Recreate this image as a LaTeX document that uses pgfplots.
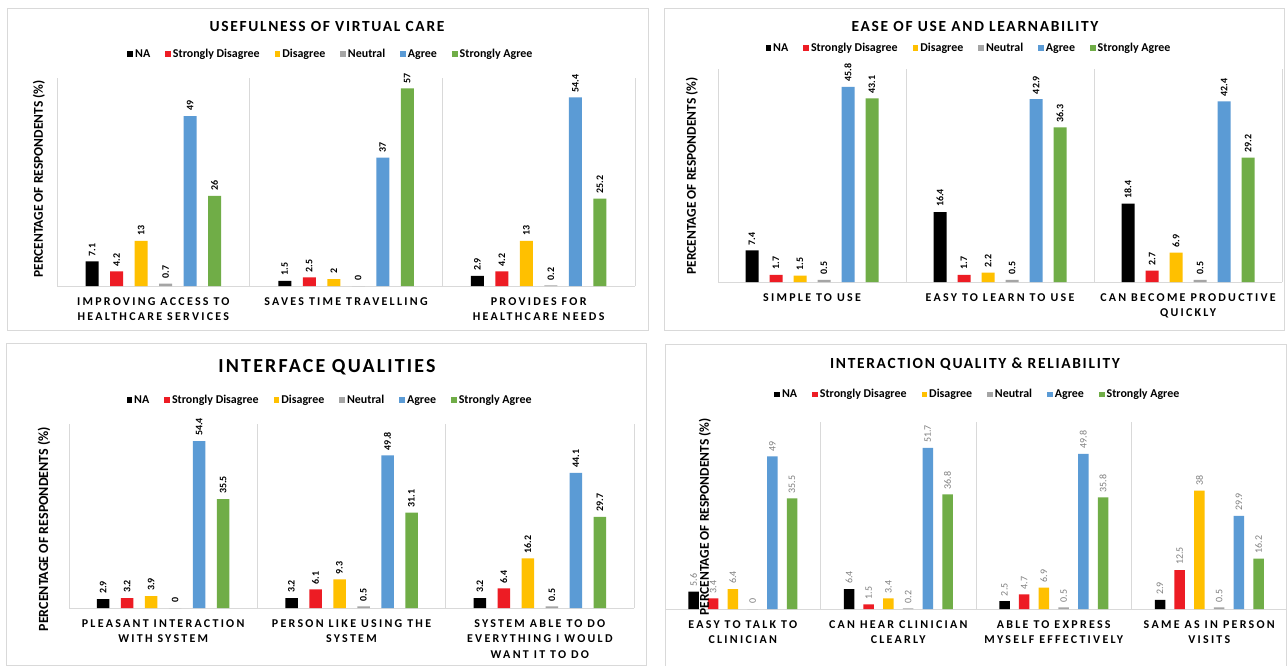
\documentclass[border=0pt]{standalone}
\usepackage{fontspec}
\setmainfont{Carlito}
\newfontfamily\spacedfont[LetterSpace=19]{Carlito}
\newfontfamily\titlefont[LetterSpace=11]{Carlito}
\usepackage{pgfplots}
\pgfplotsset{compat=1.18}
\definecolor{cNA}{HTML}{000000}
\definecolor{cSD}{HTML}{ED1C24}
\definecolor{cD}{HTML}{FFC000}
\definecolor{cN}{HTML}{A5A5A5}
\definecolor{cA}{HTML}{5B9BD5}
\definecolor{cSA}{HTML}{70AD47}
\definecolor{gridc}{HTML}{D9D9D9}
\definecolor{framec}{HTML}{D9D9D9}
\definecolor{labgray}{HTML}{7F7F7F}
\tikzset{labstyle/.style={font=\bfseries\fontsize{10}{12}\selectfont, text=black}}
\pgfplotsset{
  panel/.style={
    scale only axis, anchor=south west, clip=false,
    ymin=0,
    axis y line=none, axis x line*=bottom,
    x axis line style={draw=gridc, line width=0.8bp},
    ytick=\empty,
    major tick length=0pt, minor tick length=0pt,
    xminorgrids=true,
    minor x grid style={draw=gridc, line width=0.8bp},
    xticklabel style={font=\spacedfont\bfseries\fontsize{12}{15.5}\selectfont, align=center, yshift=-8bp},
    /pgf/number format/assume math mode=true,
    nodes near coords,
    legend columns=6,
    legend style={draw=none, fill=none, anchor=center, font=\bfseries\fontsize{12}{14}\selectfont,
      /tikz/every even column/.append style={column sep=13bp}},
  },
  bar/.style n args={3}{ybar, fill=#1, draw=none, bar shift=#2, bar width=#3,
    every node near coord/.style={xshift=#2, rotate=90, anchor=west, inner sep=0pt, inner xsep=5bp, labstyle},
    legend image code/.code={\fill[#1] (0bp,-2.85bp) rectangle (5.7bp,2.85bp);}},
}
\begin{document}
\begin{tikzpicture}[x=1bp,y=1bp]
\path[use as bounding box] (0,0) rectangle (1287,-666);
\fill[white] (0,0) rectangle (1287,-666);
\draw[framec, line width=0.8bp] (7,-8) rectangle (648,-330);
\draw[framec, line width=0.8bp] (664,-8) rectangle (1284,-330);
\draw[framec, line width=0.8bp] (6,-343) rectangle (646,-665);
\draw[framec, line width=0.8bp] (665,-344) rectangle (1286,-667);

% Panel 1
\begin{axis}[panel, at={(57bp,-286bp)}, width=578bp, height=208bp, ymax=60,
  xmin=-0.5, xmax=2.5, xtick={0,1,2}, minor xtick={-0.5,0.5,1.5,2.5},
  xticklabels={{IMPROVING ACCESS TO\\HEALTHCARE SERVICES},{SAVES TIME TRAVELLING},{PROVIDES FOR\\HEALTHCARE NEEDS}},
  legend style={at={(axis description cs:0.474,1.115)}}]
\addplot[bar={cNA}{-61.25bp}{13bp}] coordinates {(0,7.1) (1,1.5) (2,2.9)};
\addplot[bar={cSD}{-36.75bp}{13bp}] coordinates {(0,4.2) (1,2.5) (2,4.2)};
\addplot[bar={cD}{-12.25bp}{13bp}] coordinates {(0,13) (1,2) (2,13)};
\addplot[bar={cN}{12.25bp}{13bp}] coordinates {(0,0.7) (1,0) (2,0.2)};
\addplot[bar={cA}{36.75bp}{13bp}] coordinates {(0,49) (1,37) (2,54.4)};
\addplot[bar={cSA}{61.25bp}{13bp}] coordinates {(0,26) (1,57) (2,25.2)};
\legend{NA, Strongly Disagree, Disagree, Neutral, Agree, Strongly Agree}
\end{axis}
\node[font=\titlefont\bfseries\fontsize{15.5}{18}\selectfont] at (327,-26) {USEFULNESS OF VIRTUAL CARE};
\node[rotate=90, font=\bfseries\fontsize{13.5}{16}\selectfont] at (39,-179) {PERCENTAGE OF RESPONDENTS (\%)};

% Panel 2
\begin{axis}[panel, at={(718bp,-282bp)}, width=564bp, height=213bp, ymax=50,
  xmin=-0.5, xmax=2.5, xtick={0,1,2}, minor xtick={-0.5,0.5,1.5,2.5},
  xticklabels={{SIMPLE TO USE},{EASY TO LEARN TO USE},{CAN BECOME PRODUCTIVE\\QUICKLY}},
  legend style={at={(axis description cs:0.445,1.099)}}]
\addplot[bar={cNA}{-60bp}{13bp}] coordinates {(0,7.4) (1,16.4) (2,18.4)};
\addplot[bar={cSD}{-36bp}{13bp}] coordinates {(0,1.7) (1,1.7) (2,2.7)};
\addplot[bar={cD}{-12bp}{13bp}] coordinates {(0,1.5) (1,2.2) (2,6.9)};
\addplot[bar={cN}{12bp}{13bp}] coordinates {(0,0.5) (1,0.5) (2,0.5)};
\addplot[bar={cA}{36bp}{13bp}] coordinates {(0,45.8) (1,42.9) (2,42.4)};
\addplot[bar={cSA}{60bp}{13bp}] coordinates {(0,43.1) (1,36.3) (2,29.2)};
\legend{NA, Strongly Disagree, Disagree, Neutral, Agree, Strongly Agree}
\end{axis}
\node[font=\titlefont\bfseries\fontsize{15.5}{18}\selectfont] at (975,-26) {EASE OF USE AND LEARNABILITY};
\node[rotate=90, font=\bfseries\fontsize{13.5}{16}\selectfont] at (692,-176) {PERCENTAGE OF RESPONDENTS (\%)};

% Panel 3
\begin{axis}[panel, at={(69bp,-608bp)}, width=565bp, height=184bp, ymax=60,
  xmin=-0.5, xmax=2.5, xtick={0,1,2}, minor xtick={-0.5,0.5,1.5,2.5},
  xticklabels={{PLEASANT INTERACTION\\WITH SYSTEM},{PERSON LIKE USING THE\\SYSTEM},{SYSTEM ABLE TO DO\\EVERYTHING I WOULD\\WANT IT TO DO}},
  legend style={at={(axis description cs:0.462,1.13)}}]
\addplot[bar={cNA}{-60bp}{12.5bp}] coordinates {(0,2.9) (1,3.2) (2,3.2)};
\addplot[bar={cSD}{-36bp}{12.5bp}] coordinates {(0,3.2) (1,6.1) (2,6.4)};
\addplot[bar={cD}{-12bp}{12.5bp}] coordinates {(0,3.9) (1,9.3) (2,16.2)};
\addplot[bar={cN}{12bp}{12.5bp}] coordinates {(0,0) (1,0.5) (2,0.5)};
\addplot[bar={cA}{36bp}{12.5bp}] coordinates {(0,54.4) (1,49.8) (2,44.1)};
\addplot[bar={cSA}{60bp}{12.5bp}] coordinates {(0,35.5) (1,31.1) (2,29.7)};
\legend{NA, Strongly Disagree, Disagree, Neutral, Agree, Strongly Agree}
\end{axis}
\node[font=\titlefont\bfseries\fontsize{20}{24}\selectfont] at (327,-367) {INTERFACE QUALITIES};
\node[rotate=90, font=\bfseries\fontsize{14}{16}\selectfont] at (44,-529) {PERCENTAGE OF RESPONDENTS (\%)};

% Panel 4
\begin{axis}[panel, at={(665bp,-609bp)}, width=622bp, height=187bp, ymax=60,
  xmin=-0.5, xmax=3.5, xtick={0,1,2,3}, minor xtick={-0.5,0.5,1.5,2.5,3.5},
  xticklabels={{EASY TO TALK TO\\CLINICIAN},{CAN HEAR CLINICIAN\\CLEARLY},{ABLE TO EXPRESS\\MYSELF EFFECTIVELY},{SAME AS IN PERSON\\VISITS}},
  /tikz/labstyle/.style={font=\fontsize{10}{12}\selectfont, text=labgray},
  legend style={at={(axis description cs:0.503,1.147)}}]
\addplot[bar={cNA}{-49.25bp}{10.5bp}] coordinates {(0,5.6) (1,6.4) (2,2.5) (3,2.9)};
\addplot[bar={cSD}{-29.55bp}{10.5bp}] coordinates {(0,3.4) (1,1.5) (2,4.7) (3,12.5)};
\addplot[bar={cD}{-9.85bp}{10.5bp}] coordinates {(0,6.4) (1,3.4) (2,6.9) (3,38)};
\addplot[bar={cN}{9.85bp}{10.5bp}] coordinates {(0,0) (1,0.2) (2,0.5) (3,0.5)};
\addplot[bar={cA}{29.55bp}{10.5bp}] coordinates {(0,49) (1,51.7) (2,49.8) (3,29.9)};
\addplot[bar={cSA}{49.25bp}{10.5bp}] coordinates {(0,35.5) (1,36.8) (2,35.8) (3,16.2)};
\legend{NA, Strongly Disagree, Disagree, Neutral, Agree, Strongly Agree}
\end{axis}
\node[font=\titlefont\bfseries\fontsize{15.5}{18}\selectfont] at (975,-364) {INTERACTION QUALITY \& RELIABILITY};
\node[rotate=90, font=\bfseries\fontsize{13.5}{16}\selectfont] at (705,-517) {PERCENTAGE OF RESPONDENTS (\%)};
\end{tikzpicture}
\end{document}
